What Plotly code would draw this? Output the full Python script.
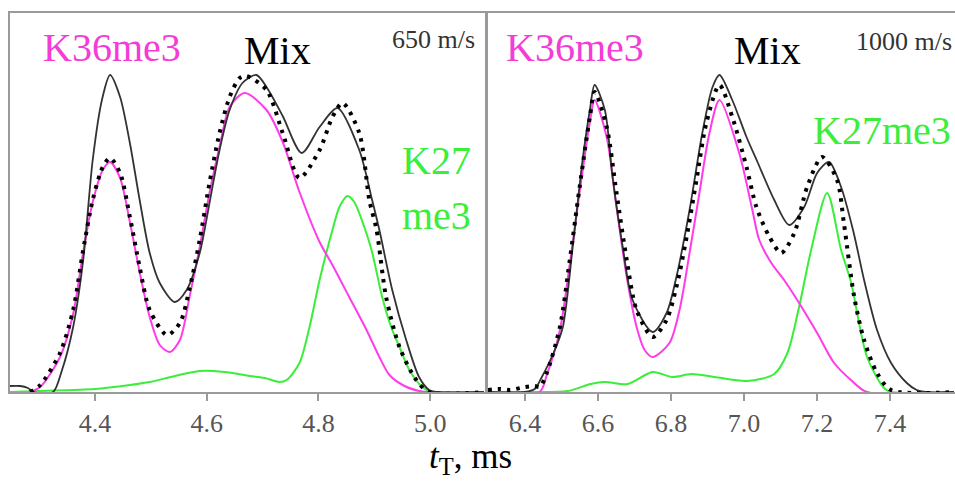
import plotly.graph_objects as go

# ---------------- data (t in ms, intensity in arbitrary units) ----------------
# Left panel: 650 m/s
L_mix_t = [4.248, 4.266, 4.280, 4.290, 4.325, 4.340, 4.361, 4.379, 4.396, 4.4125, 4.427, 4.445, 4.4625,
           4.480, 4.498, 4.516, 4.543, 4.564, 4.5875, 4.605, 4.623, 4.641, 4.664, 4.689, 4.707, 4.736,
           4.770, 4.802, 4.834, 4.873, 4.896, 4.909, 4.932, 4.957, 4.980, 4.998, 5.010, 5.096]
L_mix_y = [6, 6, 4, 0, 0, 20, 65, 132, 232, 292, 317, 295, 249,
           192, 139, 109, 90, 102, 139, 189, 242, 282, 309, 317, 305, 276,
           239, 265, 284, 242, 192, 162, 102, 52, 15, 2, 0, 0]

L_sum_t = [4.284, 4.302, 4.3375, 4.361, 4.379, 4.396, 4.414, 4.427, 4.445, 4.4625, 4.480, 4.498, 4.529,
           4.552, 4.570, 4.5875, 4.605, 4.623, 4.641, 4.659, 4.671, 4.707, 4.736, 4.766, 4.802, 4.825,
           4.843, 4.873, 4.891, 4.904, 4.921, 4.945, 4.975, 4.998, 5.096]
L_sum_y = [0, 7, 39, 82, 142, 192, 225, 234, 219, 175, 125, 82, 57,
           69, 105, 152, 209, 259, 295, 314, 316, 302, 259, 214, 242, 275,
           289, 259, 192, 162, 95, 45, 12, 0, 0]

L_k36_t = [4.284, 4.302, 4.3375, 4.361, 4.379, 4.396, 4.414, 4.427, 4.445, 4.4625, 4.480, 4.498, 4.516,
           4.534, 4.552, 4.570, 4.5875, 4.605, 4.623, 4.641, 4.668, 4.707, 4.736, 4.766, 4.802, 4.825,
           4.855, 4.886, 4.909, 4.927, 4.954, 4.980, 4.993, 5.096]
L_k36_y = [0, 5, 35, 78, 140, 190, 222, 230, 214, 170, 120, 75, 47,
           40, 52, 97, 145, 199, 245, 285, 299, 282, 250, 200, 150, 127,
           95, 62, 35, 17, 6, 1, 0, 0]

L_k27_t = [4.248, 4.300, 4.400, 4.4625, 4.498, 4.543, 4.5875, 4.632, 4.677, 4.704, 4.730, 4.743, 4.766,
           4.784, 4.802, 4.825, 4.8375, 4.852, 4.864, 4.882, 4.895, 4.914, 4.930, 4.945, 4.9625, 4.986,
           5.002, 5.096]
L_k27_y = [0, 1, 3, 7, 10, 16, 21, 20, 16, 14, 10, 12, 29,
           65, 112, 162, 185, 196, 190, 165, 142, 95, 65, 45, 22, 5,
           0, 0]

# Right panel: 1000 m/s
R_mix_t = [6.299, 6.400, 6.427, 6.4465, 6.482, 6.504, 6.531, 6.558, 6.578, 6.591, 6.619, 6.640, 6.668,
           6.695, 6.750, 6.788, 6.815, 6.851, 6.886, 6.914, 6.933, 6.968, 7.007, 7.037, 7.083, 7.124,
           7.165, 7.2005, 7.233, 7.266, 7.300, 7.329, 7.3645, 7.403, 7.446, 7.473, 7.500, 7.575]
R_mix_y = [0, 0, 3, 15, 42, 65, 145, 232, 282, 307, 282, 215, 145,
           92, 60, 79, 115, 182, 259, 305, 317, 292, 255, 230, 192, 167,
           185, 219, 230, 205, 160, 112, 62, 29, 9, 2, 0, 0]

R_sum_t = [6.299, 6.332, 6.359, 6.400, 6.427, 6.441, 6.460, 6.496, 6.523, 6.550, 6.578, 6.591, 6.624,
           6.651, 6.679, 6.706, 6.750, 6.788, 6.815, 6.843, 6.870, 6.897, 6.933, 6.968, 7.007, 7.034,
           7.070, 7.102, 7.138, 7.173, 7.214, 7.255, 7.274, 7.302, 7.329, 7.3645, 7.403, 7.575]
R_sum_y = [2, 3, 2, 5, 6, 5, 19, 65, 132, 205, 275, 300, 265,
           199, 132, 82, 55, 72, 105, 155, 212, 269, 307, 275, 225, 185,
           155, 139, 159, 205, 235, 212, 168, 95, 52, 19, 2, 0]

R_k36_t = [6.299, 6.440, 6.460, 6.496, 6.523, 6.550, 6.578, 6.591, 6.624, 6.651, 6.679, 6.706, 6.728,
           6.750, 6.796, 6.8235, 6.851, 6.878, 6.9055, 6.933, 6.987, 7.023, 7.042, 7.075, 7.110, 7.151,
           7.2005, 7.247, 7.293, 7.337, 7.575]
R_k36_y = [0, 0, 17, 62, 128, 200, 270, 292, 255, 185, 115, 65, 42,
           35, 49, 82, 139, 199, 259, 292, 239, 182, 152, 129, 112, 89,
           59, 29, 12, 0, 0]

R_k27_t = [6.299, 6.400, 6.5175, 6.580, 6.619, 6.681, 6.750, 6.804, 6.856, 6.919, 7.009, 7.083, 7.119,
           7.151, 7.184, 7.228, 7.266, 7.293, 7.337, 7.3835, 7.403, 7.575]
R_k27_y = [0, 0, 1, 8, 10, 8, 20, 15, 18, 15, 11, 18, 39,
           85, 142, 199, 142, 110, 35, 4, 0, 0]

L_ticks = [4.4, 4.6, 4.8, 5.0]
R_ticks = [6.4, 6.6, 6.8, 7.0, 7.2, 7.4]

# ---------------- styling ----------------
W, H = 955, 483
MAG = "#ff3bea"
MAG_TXT = "#f43cd6"
GRN = "#3aee3a"
BLK = "#333333"
FRAME = "#9a9a9a"
SERIF = "Liberation Serif, Times New Roman, serif"


def px(x):
    return x / W


def py(y):
    return 1 - y / H


fig = go.Figure()


def add_panel(xa, ya, k27, k36, mix, sm):
    common = dict(xaxis=xa, yaxis=ya, mode="lines", hoverinfo="skip", showlegend=False)
    fig.add_trace(go.Scatter(x=k27[0], y=k27[1], line=dict(color=GRN, width=2, shape="spline", smoothing=0.8), **common))
    fig.add_trace(go.Scatter(x=k36[0], y=k36[1], line=dict(color=MAG, width=2, shape="spline", smoothing=0.8), **common))
    fig.add_trace(go.Scatter(x=mix[0], y=mix[1], line=dict(color=BLK, width=1.8, shape="spline", smoothing=0.8), **common))
    fig.add_trace(go.Scatter(x=sm[0], y=sm[1], line=dict(color="black", width=4, dash="3.5px,6px", shape="spline", smoothing=0.8), **common))


add_panel("x", "y", (L_k27_t, L_k27_y), (L_k36_t, L_k36_y), (L_mix_t, L_mix_y), (L_sum_t, L_sum_y))
add_panel("x2", "y2", (R_k27_t, R_k27_y), (R_k36_t, R_k36_y), (R_mix_t, R_mix_y), (R_sum_t, R_sum_y))

ydom = [py(392), py(13)]
tickfont = dict(family=SERIF, size=26, color="#555555")

fig.update_layout(
    width=W, height=H,
    margin=dict(l=0, r=0, t=0, b=0),
    paper_bgcolor="white", plot_bgcolor="white",
    xaxis=dict(domain=[px(10), px(485)], range=[4.248, 5.098], tickvals=L_ticks,
               ticktext=[f"{v:.1f}" for v in L_ticks], tickfont=tickfont,
               ticks="outside", ticklen=7, tickcolor=FRAME, tickwidth=1.5,
               showline=True, linecolor=FRAME, linewidth=2, mirror=True,
               showgrid=False, zeroline=False, anchor="y"),
    yaxis=dict(domain=ydom, range=[0, 379], showticklabels=False, ticks="",
               showline=True, linecolor=FRAME, linewidth=2, mirror=True,
               showgrid=False, zeroline=False, anchor="x"),
    xaxis2=dict(domain=[px(488), 1], range=[6.299, 7.578], tickvals=R_ticks,
                ticktext=[f"{v:.1f}" for v in R_ticks], tickfont=tickfont,
                ticks="outside", ticklen=7, tickcolor=FRAME, tickwidth=1.5,
                showline=True, linecolor=FRAME, linewidth=2, mirror=True,
                showgrid=False, zeroline=False, anchor="y2"),
    yaxis2=dict(domain=ydom, range=[0, 379], showticklabels=False, ticks="",
                showline=True, linecolor=FRAME, linewidth=2, mirror=False,
                showgrid=False, zeroline=False, anchor="x2"),
)

ann = [
    ("K36me3", 111.5, 48, MAG_TXT, 40),
    ("Mix", 277, 51, "black", 40),
    ("650 m/s", 433, 40, "#333333", 26),
    ("K27", 436, 161, GRN, 40),
    ("me3", 436, 215, GRN, 40),
    ("K36me3", 575, 48, MAG_TXT, 40),
    ("Mix", 767, 51, "black", 40),
    ("1000 m/s", 904, 41, "#333333", 26),
    ("K27me3", 881.5, 130, GRN, 40),
    ("<i>t</i><sub>T</sub>, ms", 470, 458, "black", 35),
]
for text, x, y, col, size in ann:
    fig.add_annotation(text=text, x=px(x), y=py(y), xref="paper", yref="paper",
                       xanchor="center", yanchor="middle", showarrow=False,
                       font=dict(family=SERIF, size=size, color=col))

fig.write_html("out.html",
               config={"displayModeBar": False},
               post_script="document.body.style.margin='0';document.body.style.padding='0';"
                           "window.dispatchEvent(new Event('resize'));")
